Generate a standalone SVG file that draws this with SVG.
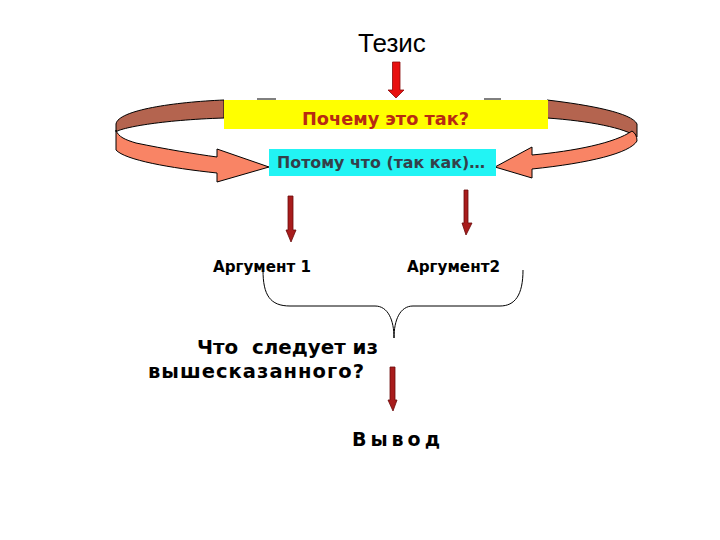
<svg xmlns="http://www.w3.org/2000/svg" width="720" height="540" viewBox="0 0 720 540">
<style>
.b{font-family:"DejaVu Sans",Verdana,sans-serif;font-weight:bold}
.back{fill:#b4644f;stroke:#000;stroke-width:1}
.front{fill:#f98465;stroke:#000;stroke-width:1}
.dark{fill:#a81c1c;stroke:#6a0a0a;stroke-width:0.8}
</style>
<rect width="720" height="540" fill="#fff"/>
<g id="ring">
<path class="back" d="M224,100 C175,102 118,110 116,124 L116,132 C120,128 160,120 224,118 Z"/>
<path class="front" d="M116,130 C118,137 126,140 136,143 C165,149 195,154 217,157 L217,149 L269,167 L217,182 L217,173 C170,168 125,160 116,150 Z"/>
<path class="back" d="M547,100 C590,105 632,113 637,124 L637,137 C625,128 590,121 547,118 Z"/>
<path class="front" d="M632,131 Q637,134 637,141 C630,153 590,163 532,169 L532,178 L495,167 L532,147 L532,155 C575,151 615,143 632,131 Z"/>
<line x1="257" y1="99" x2="276" y2="99" stroke="#000" stroke-width="1"/>
<line x1="484" y1="99" x2="501" y2="99" stroke="#000" stroke-width="1"/>
</g>
<g id="thesis">
<text x="392" y="52" font-family="Liberation Sans,Arial,sans-serif" font-size="26" text-anchor="middle" fill="#000">Тезис</text>
</g>
<g id="why">
<rect x="224" y="100" width="324" height="29" fill="#ffff00"/>
<text class="b" x="302" y="125" font-size="17" fill="#b82a12" textLength="167" lengthAdjust="spacingAndGlyphs">Почему это так?</text>
</g>
<g id="because">
<rect x="269" y="149" width="227" height="27" fill="#22f4f4"/>
<text class="b" x="277" y="168" font-size="15.5" fill="#34404a" textLength="208" lengthAdjust="spacingAndGlyphs">Потому что (так как)…</text>
</g>
<g id="arg1">
<text class="b" x="213" y="272" font-size="16" fill="#000" textLength="98" lengthAdjust="spacingAndGlyphs">Аргумент 1</text>
</g>
<g id="arg2">
<text class="b" x="407" y="272" font-size="16" fill="#000" textLength="93" lengthAdjust="spacingAndGlyphs">Аргумент2</text>
</g>
<g id="question">
<text class="b" x="197" y="354" font-size="19.5" fill="#000" textLength="181" lengthAdjust="spacingAndGlyphs" xml:space="preserve">Что  следует из</text>
<text class="b" x="148" y="378" font-size="19.5" fill="#000" textLength="216" lengthAdjust="spacing">вышесказанного?</text>
</g>
<g id="conclusion">
<text class="b" x="352" y="446" font-size="19" fill="#000" textLength="88" lengthAdjust="spacing" xml:space="preserve">В ы в о д</text>
</g>
<g id="connectors">
<path fill="#e81010" stroke="#8a0a0a" stroke-width="0.8" d="M392.5,62 L400,62 L400,90 L404,90 L396,98 L388,90 L392.5,90 Z"/>
<path class="dark" d="M288,196 L293,196 L293,230 L296,230 L291,242 L286,230 L288,230 Z"/>
<path class="dark" d="M464,190 L468,190 L468,223 L472,223 L466,235 L462,223 L464,223 Z"/>
<path class="dark" d="M390,367 L395,367 L395,400 L397,400 L393,411 L388,400 L390,400 Z"/>
<path fill="none" stroke="#000" stroke-width="1" d="M263,270 C263,295 270,306 290,306 L375,306 C388,306 394,320 394,338 C394,320 400,306 413,306 L500,306 C515,306 523,295 523,270"/>
</g>
</svg>
